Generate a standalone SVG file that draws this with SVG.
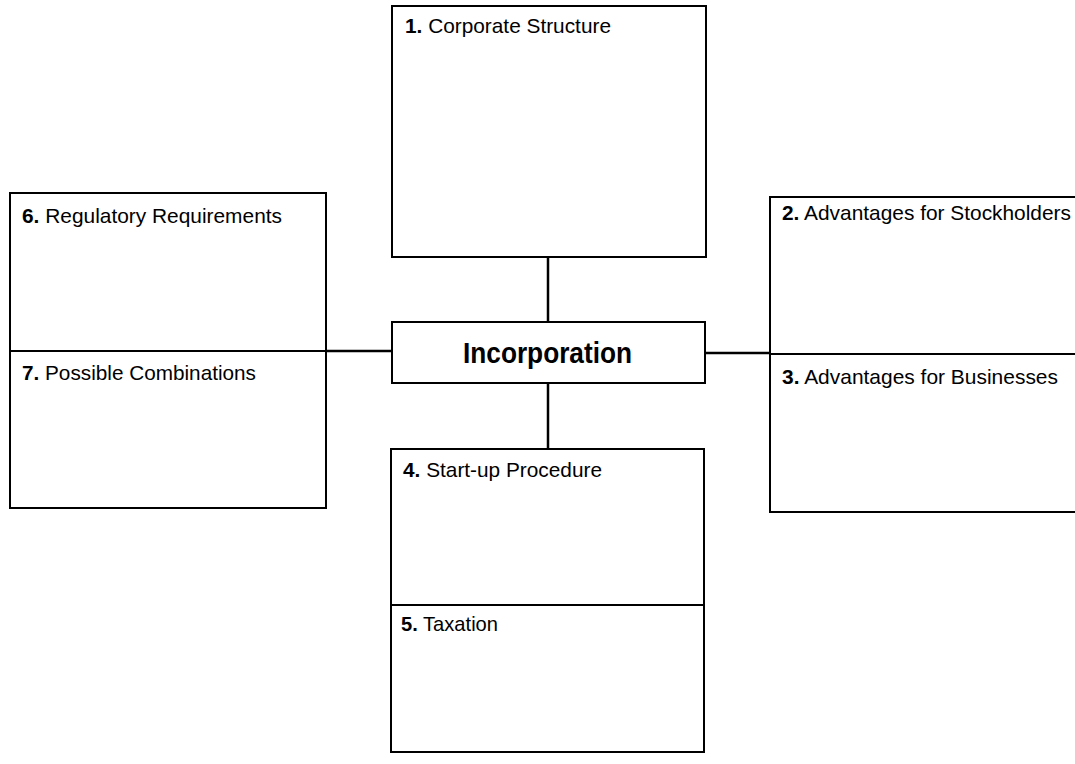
<svg xmlns="http://www.w3.org/2000/svg" width="1075" height="764" viewBox="0 0 1075 764">
<style>
.box{fill:#fff;stroke:#000;stroke-width:2}
.div{stroke:#000;stroke-width:2}
.conn{stroke:#000;stroke-width:2.5}
.lbl{font-family:"Liberation Sans Narrow","Liberation Sans",Arial,sans-serif;font-size:21px;fill:#000}
.num{font-weight:bold}
.title{font-family:"Liberation Sans Narrow","Liberation Sans",Arial,sans-serif;font-size:29px;font-weight:bold;fill:#000}
</style>
<rect width="1075" height="764" fill="#fff"/>
<g id="connectors">
<line class="conn" x1="548" y1="257" x2="548" y2="322"/>
<line class="conn" x1="548" y1="383" x2="548" y2="449"/>
<line class="conn" x1="326" y1="351" x2="392" y2="351"/>
<line class="conn" x1="705" y1="353" x2="770" y2="353"/>
</g>
<g id="node-1">
<rect class="box" x="392" y="6" width="314" height="251"/>
<text class="lbl" x="405" y="33" textLength="206" lengthAdjust="spacingAndGlyphs"><tspan class="num">1.</tspan> Corporate Structure</text>
</g>
<g id="node-incorporation">
<rect class="box" x="392" y="322" width="313" height="61"/>
<text class="title" x="463" y="363" textLength="169" lengthAdjust="spacingAndGlyphs">Incorporation</text>
</g>
<g id="node-6-7">
<rect class="box" x="10" y="193" width="316" height="315"/>
<line class="div" x1="10" y1="351" x2="326" y2="351"/>
</g>
<g id="node-6">
<text class="lbl" x="22" y="223" textLength="260" lengthAdjust="spacingAndGlyphs"><tspan class="num">6.</tspan> Regulatory Requirements</text>
</g>
<g id="node-7">
<text class="lbl" x="22" y="380" textLength="234" lengthAdjust="spacingAndGlyphs"><tspan class="num">7.</tspan> Possible Combinations</text>
</g>
<g id="node-2-3">
<rect class="box" x="770" y="197" width="320" height="315"/>
<line class="div" x1="770" y1="354" x2="1080" y2="354"/>
</g>
<g id="node-2">
<text class="lbl" x="782" y="220" textLength="289" lengthAdjust="spacingAndGlyphs"><tspan class="num">2.</tspan> Advantages for Stockholders</text>
</g>
<g id="node-3">
<text class="lbl" x="782" y="384" textLength="276" lengthAdjust="spacingAndGlyphs"><tspan class="num">3.</tspan> Advantages for Businesses</text>
</g>
<g id="node-4-5">
<rect class="box" x="391" y="449" width="313" height="303"/>
<line class="div" x1="391" y1="605" x2="704" y2="605"/>
</g>
<g id="node-4">
<text class="lbl" x="403" y="477" textLength="199" lengthAdjust="spacingAndGlyphs"><tspan class="num">4.</tspan> Start-up Procedure</text>
</g>
<g id="node-5">
<text class="lbl" x="401" y="631" textLength="97" lengthAdjust="spacingAndGlyphs"><tspan class="num">5.</tspan> Taxation</text>
</g>
</svg>
